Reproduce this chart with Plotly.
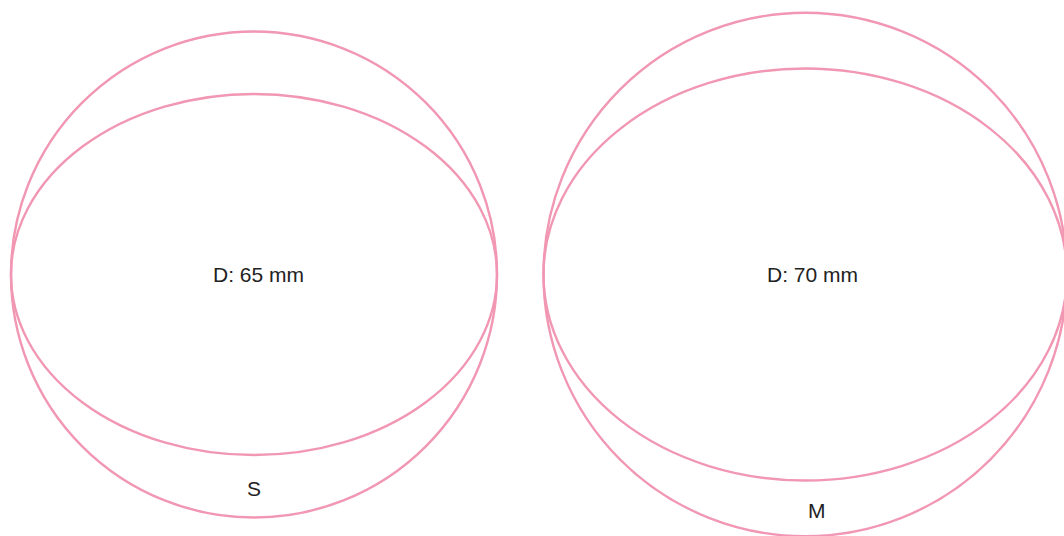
import plotly.graph_objects as go

# ---- data ----
sizes = ["S", "M"]
diameters_mm = [65, 70]          # outer circle diameter
inner_height_mm = [48.3, 55.1]   # vertical diameter of the inner (perspective) ellipse
labels = [f"D: {d} mm" for d in diameters_mm]

# ---- layout constants ----
W, H = 1064, 536
PX_PER_MM = 7.477  # pixels per mm on the canvas
pad_left_mm = 11 / PX_PER_MM
gap_mm = 46.5 / PX_PER_MM
center_y_px = 274.5
line_color = "#F197B3"
line_width = 2.4
text_color = "#222222"
font_family = "Liberation Sans, Arial, sans-serif"
d_label_dx_px = [4.7, 7.0]
s_label_dx_px = [0.0, 12.0]

x_range = [0, W / PX_PER_MM]
y_range = [-(H - center_y_px) / PX_PER_MM, center_y_px / PX_PER_MM]

fig = go.Figure()
shapes = []
annotations = []

cx = pad_left_mm
for i, (size, d, h, lab) in enumerate(zip(sizes, diameters_mm, inner_height_mm, labels)):
    r = d / 2
    cx = cx + r if i == 0 else cx + diameters_mm[i - 1] / 2 + gap_mm + r
    cy = 0
    # outer circle
    shapes.append(dict(type="circle", xref="x", yref="y",
                       x0=cx - r, x1=cx + r, y0=cy - r, y1=cy + r,
                       line=dict(color=line_color, width=line_width)))
    # inner ellipse
    shapes.append(dict(type="circle", xref="x", yref="y",
                       x0=cx - r, x1=cx + r, y0=cy - h / 2, y1=cy + h / 2,
                       line=dict(color=line_color, width=line_width)))
    annotations.append(dict(x=cx + d_label_dx_px[i] / PX_PER_MM, y=cy, xref="x", yref="y",
                            text=lab, showarrow=False, xanchor="center", yanchor="middle",
                            font=dict(size=21, color=text_color, family=font_family)))
    label_y = -((r + h / 2) / 2) - 2 / PX_PER_MM
    annotations.append(dict(x=cx + s_label_dx_px[i] / PX_PER_MM, y=label_y, xref="x", yref="y",
                            text=size, showarrow=False, xanchor="center", yanchor="middle",
                            font=dict(size=21, color=text_color, family=font_family)))

fig.update_layout(
    width=W, height=H,
    margin=dict(l=0, r=0, t=0, b=0),
    paper_bgcolor="white", plot_bgcolor="white",
    shapes=shapes, annotations=annotations,
    xaxis=dict(range=x_range, visible=False, showgrid=False, zeroline=False, fixedrange=True),
    yaxis=dict(range=y_range, visible=False, showgrid=False, zeroline=False, fixedrange=True),
    showlegend=False,
)

fig.write_html(
    "out.html",
    config={"displayModeBar": False},
    post_script="document.body.style.margin='0';document.body.style.overflow='hidden';",
)
